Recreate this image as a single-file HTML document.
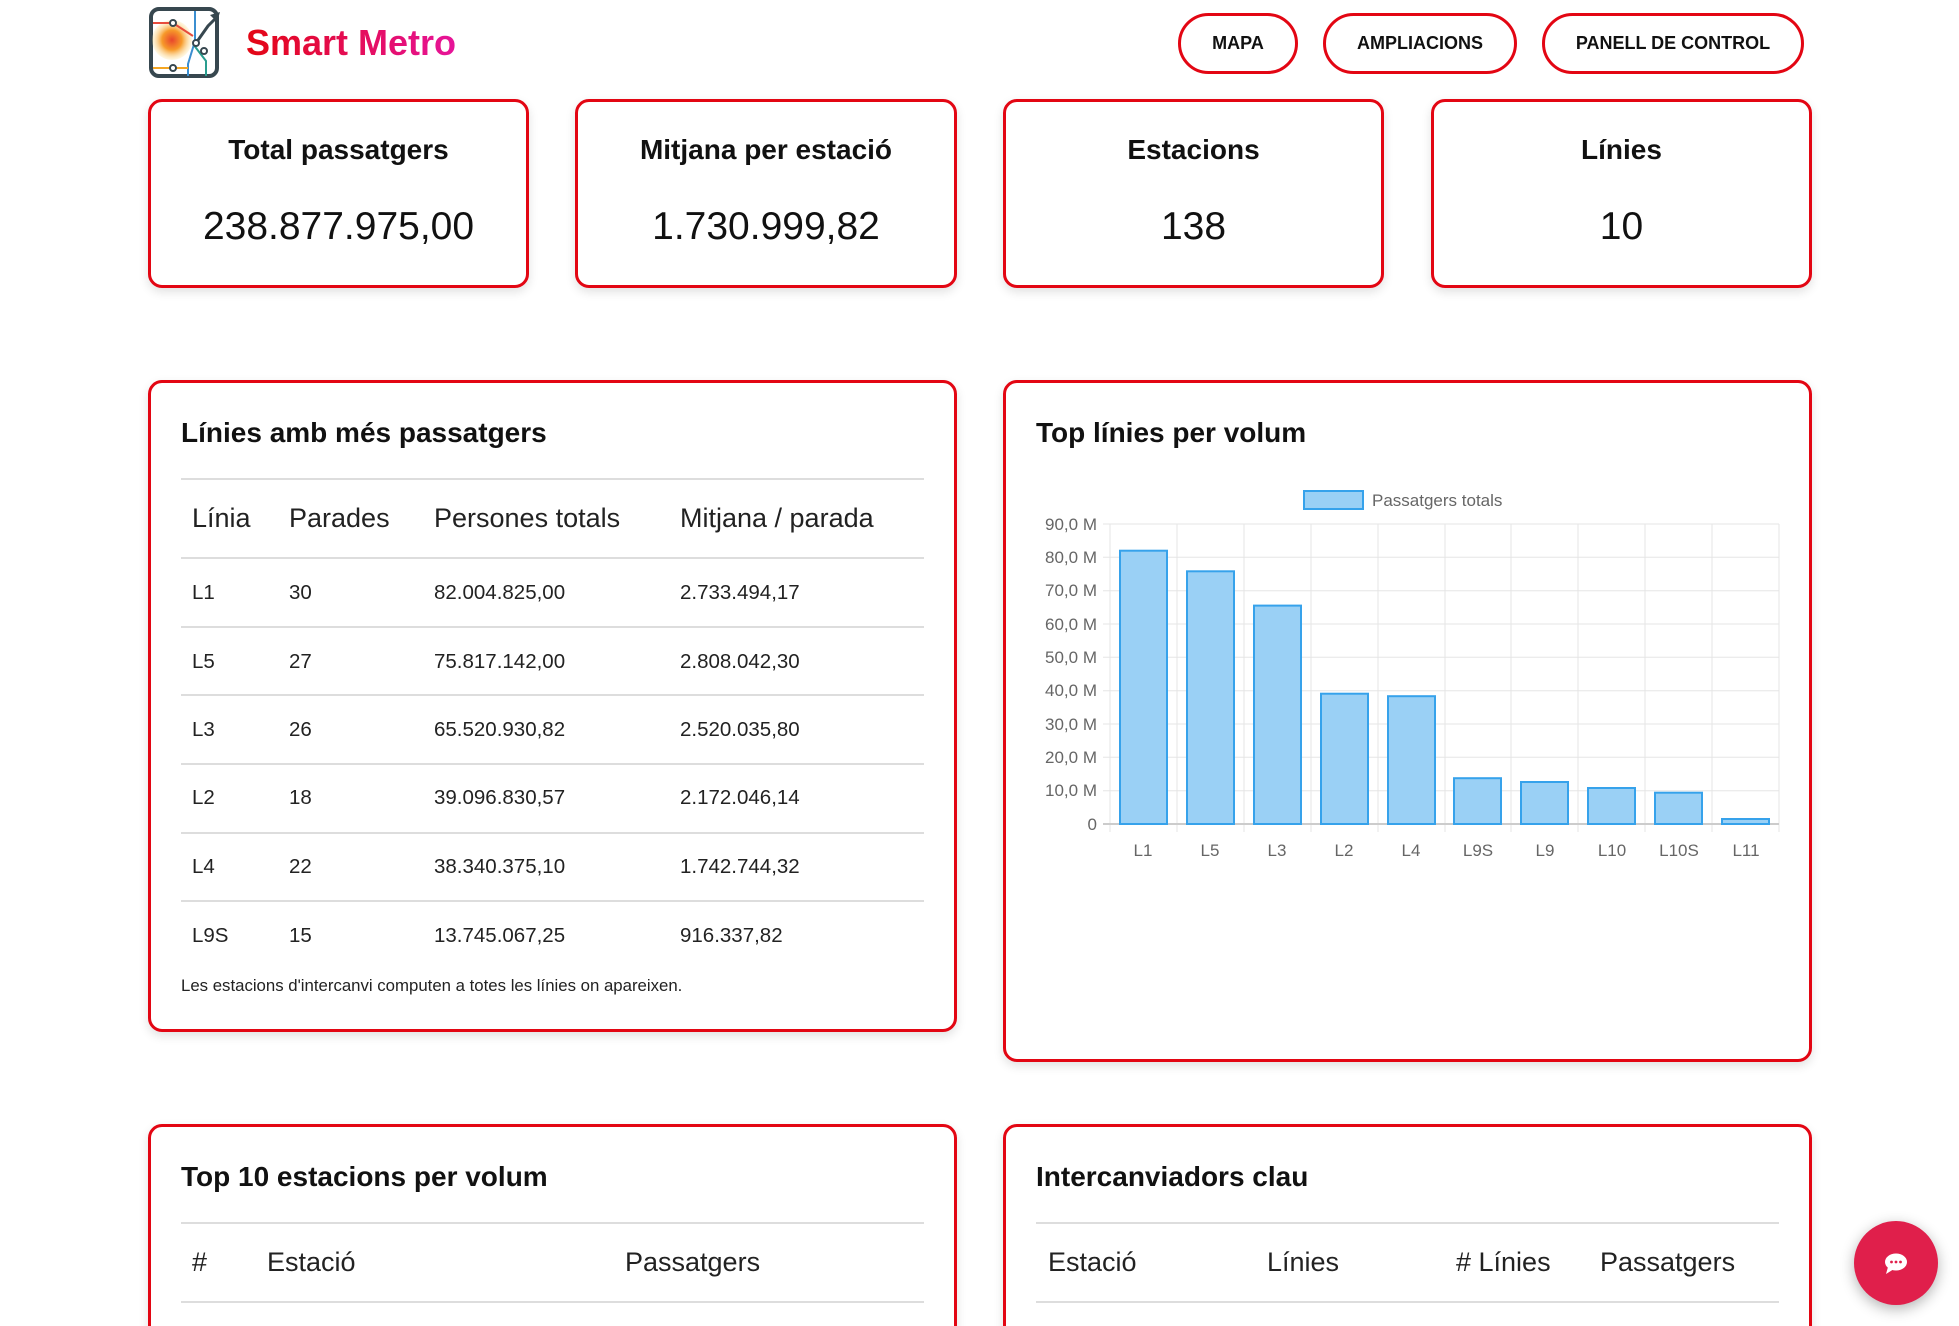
<!DOCTYPE html>
<html style="height:1326px;overflow:hidden"><head><meta charset="utf-8"><style>
body{margin:0;width:1959px;height:1326px;overflow:hidden;background:#fff;font-family:"Liberation Sans",sans-serif;position:relative;color:#111}
.a{position:absolute}
.btn{position:absolute;top:13px;height:61px;border:3px solid #e30613;border-radius:31px;box-sizing:border-box;display:flex;align-items:center;justify-content:center;font-weight:bold;font-size:18px;color:#111}
.card{position:absolute;border:3px solid #e30613;border-radius:14px;box-sizing:border-box;box-shadow:0 4px 10px rgba(0,0,0,0.12);background:#fff}
.kt{position:absolute;left:0;right:0;text-align:center;font-weight:bold;font-size:28px;top:32px}
.kv{position:absolute;left:0;right:0;text-align:center;font-size:39px;top:103px}
.ct{position:absolute;font-weight:bold;font-size:28px;left:30px;top:34px}
.hr{position:absolute;left:30px;right:30px;height:2px;background:#ddd}
.th{position:absolute;font-size:27px;color:#222}
.td{position:absolute;font-size:20.5px;color:#222}
</style></head><body>
<svg class="a" style="left:148px;top:6px" width="72" height="73" viewBox="0 0 72 73">
<rect x="3" y="3" width="66" height="67" rx="8" fill="#fff" stroke="#37474f" stroke-width="4"/>
<defs><radialGradient id="g"><stop offset="0" stop-color="#e8452c"/><stop offset="0.5" stop-color="#f79a2a"/><stop offset="1" stop-color="#fde8a8" stop-opacity="0.3"/></radialGradient></defs>
<circle cx="24" cy="34" r="20" fill="url(#g)"/>
<path d="M5 17 H25 L45 30" stroke="#e74c3c" stroke-width="2" fill="none"/>
<path d="M47 5 V35 L40 58 V70" stroke="#3b8ed0" stroke-width="2" fill="none"/>
<path d="M45 38 L58 55 V70" stroke="#2a9d8f" stroke-width="2" fill="none"/>
<path d="M5 62 H40" stroke="#f4a623" stroke-width="2" fill="none"/>
<path d="M48 37 L60 20 L70 10" stroke="#37474f" stroke-width="3" fill="none"/>
<polygon points="72,6 62,9 69,16" fill="#37474f"/>
<circle cx="25" cy="17" r="3" fill="#fff" stroke="#37474f" stroke-width="2"/>
<circle cx="48" cy="37" r="3" fill="#fff" stroke="#37474f" stroke-width="2"/>
<circle cx="56" cy="45" r="3" fill="#fff" stroke="#37474f" stroke-width="2"/>
<circle cx="25" cy="62" r="3" fill="#fff" stroke="#37474f" stroke-width="2"/>
</svg>
<div class="a" style="left:246px;top:22px;font-size:36px;font-weight:bold;background:linear-gradient(90deg,#e30613,#e6149a);-webkit-background-clip:text;background-clip:text;color:transparent">Smart Metro</div>
<div class="btn" style="left:1178px;width:120px">MAPA</div>
<div class="btn" style="left:1323px;width:194px">AMPLIACIONS</div>
<div class="btn" style="left:1542px;width:262px">PANELL DE CONTROL</div>

<div class="card" style="left:148px;top:99px;width:381px;height:189px"><div class="kt">Total passatgers</div><div class="kv">238.877.975,00</div></div>
<div class="card" style="left:575px;top:99px;width:382px;height:189px"><div class="kt">Mitjana per estació</div><div class="kv">1.730.999,82</div></div>
<div class="card" style="left:1003px;top:99px;width:381px;height:189px"><div class="kt">Estacions</div><div class="kv">138</div></div>
<div class="card" style="left:1431px;top:99px;width:381px;height:189px"><div class="kt">Línies</div><div class="kv">10</div></div>

<div class="card" style="left:148px;top:380px;width:809px;height:652px">
<div class="ct">Línies amb més passatgers</div>
<div class="hr" style="top:95px"></div>
<div class="th" style="left:41px;top:120px">Línia</div><div class="th" style="left:138px;top:120px">Parades</div><div class="th" style="left:283px;top:120px">Persones totals</div><div class="th" style="left:529px;top:120px">Mitjana / parada</div>
<div class="hr" style="top:174px"></div>
<div class="td" style="left:41px;top:198px">L1</div><div class="td" style="left:138px;top:198px">30</div><div class="td" style="left:283px;top:198px">82.004.825,00</div><div class="td" style="left:529px;top:198px">2.733.494,17</div>
<div class="hr" style="top:243px"></div>
<div class="td" style="left:41px;top:267px">L5</div><div class="td" style="left:138px;top:267px">27</div><div class="td" style="left:283px;top:267px">75.817.142,00</div><div class="td" style="left:529px;top:267px">2.808.042,30</div>
<div class="hr" style="top:311px"></div>
<div class="td" style="left:41px;top:335px">L3</div><div class="td" style="left:138px;top:335px">26</div><div class="td" style="left:283px;top:335px">65.520.930,82</div><div class="td" style="left:529px;top:335px">2.520.035,80</div>
<div class="hr" style="top:380px"></div>
<div class="td" style="left:41px;top:403px">L2</div><div class="td" style="left:138px;top:403px">18</div><div class="td" style="left:283px;top:403px">39.096.830,57</div><div class="td" style="left:529px;top:403px">2.172.046,14</div>
<div class="hr" style="top:449px"></div>
<div class="td" style="left:41px;top:472px">L4</div><div class="td" style="left:138px;top:472px">22</div><div class="td" style="left:283px;top:472px">38.340.375,10</div><div class="td" style="left:529px;top:472px">1.742.744,32</div>
<div class="hr" style="top:517px"></div>
<div class="td" style="left:41px;top:541px">L9S</div><div class="td" style="left:138px;top:541px">15</div><div class="td" style="left:283px;top:541px">13.745.067,25</div><div class="td" style="left:529px;top:541px">916.337,82</div>
<div class="a" style="left:30px;top:593px;font-size:16.8px;color:#222">Les estacions d'intercanvi computen a totes les línies on apareixen.</div>
</div>

<div class="card" style="left:1003px;top:380px;width:809px;height:682px">
<div class="ct">Top línies per volum</div>
</div>
<svg class="a" style="left:1003px;top:380px" width="809" height="682" font-family="Liberation Sans, sans-serif">
<rect x="301" y="111" width="59" height="18" fill="#9ad0f5" stroke="#36a2eb" stroke-width="2"/>
<text x="369" y="126" font-size="17" fill="#666">Passatgers totals</text>
<g stroke="#e5e5e5" stroke-width="1">
<line x1="100" y1="144" x2="776" y2="144"/><line x1="100" y1="177.3" x2="776" y2="177.3"/><line x1="100" y1="210.7" x2="776" y2="210.7"/><line x1="100" y1="244" x2="776" y2="244"/><line x1="100" y1="277.3" x2="776" y2="277.3"/><line x1="100" y1="310.7" x2="776" y2="310.7"/><line x1="100" y1="344" x2="776" y2="344"/><line x1="100" y1="377.3" x2="776" y2="377.3"/><line x1="100" y1="410.7" x2="776" y2="410.7"/>
<line x1="107" y1="144" x2="107" y2="452"/><line x1="174" y1="144" x2="174" y2="452"/><line x1="241" y1="144" x2="241" y2="452"/><line x1="308" y1="144" x2="308" y2="452"/><line x1="375" y1="144" x2="375" y2="452"/><line x1="442" y1="144" x2="442" y2="452"/><line x1="508" y1="144" x2="508" y2="452"/><line x1="575" y1="144" x2="575" y2="452"/><line x1="642" y1="144" x2="642" y2="452"/><line x1="709" y1="144" x2="709" y2="452"/><line x1="776" y1="144" x2="776" y2="452"/>
</g>
<line x1="100" y1="444" x2="776" y2="444" stroke="#ccc" stroke-width="2"/>
<g font-size="17" fill="#666" text-anchor="end">
<text x="94" y="150">90,0 M</text><text x="94" y="183">80,0 M</text><text x="94" y="216">70,0 M</text><text x="94" y="250">60,0 M</text><text x="94" y="283">50,0 M</text><text x="94" y="316">40,0 M</text><text x="94" y="350">30,0 M</text><text x="94" y="383">20,0 M</text><text x="94" y="416">10,0 M</text><text x="94" y="450">0</text>
</g>
<g fill="#9ad0f5" stroke="#36a2eb" stroke-width="2">
<rect x="117" y="170.7" width="47" height="273.3"/>
<rect x="184" y="191.3" width="47" height="252.7"/>
<rect x="251" y="225.6" width="47" height="218.4"/>
<rect x="318" y="313.7" width="47" height="130.3"/>
<rect x="385" y="316.2" width="47" height="127.8"/>
<rect x="451" y="398.2" width="47" height="45.8"/>
<rect x="518" y="402" width="47" height="42"/>
<rect x="585" y="408" width="47" height="36"/>
<rect x="652" y="412.7" width="47" height="31.3"/>
<rect x="719" y="439" width="47" height="5"/>
</g>
<g font-size="17" fill="#666" text-anchor="middle">
<text x="140" y="476">L1</text><text x="207" y="476">L5</text><text x="274" y="476">L3</text><text x="341" y="476">L2</text><text x="408" y="476">L4</text><text x="475" y="476">L9S</text><text x="542" y="476">L9</text><text x="609" y="476">L10</text><text x="676" y="476">L10S</text><text x="743" y="476">L11</text>
</g>
</svg>

<div class="card" style="left:148px;top:1124px;width:809px;height:260px">
<div class="ct">Top 10 estacions per volum</div>
<div class="hr" style="top:95px"></div>
<div class="th" style="left:41px;top:120px">#</div><div class="th" style="left:116px;top:120px">Estació</div><div class="th" style="left:474px;top:120px">Passatgers</div>
<div class="hr" style="top:174px"></div>
</div>
<div class="card" style="left:1003px;top:1124px;width:809px;height:260px">
<div class="ct">Intercanviadors clau</div>
<div class="hr" style="top:95px"></div>
<div class="th" style="left:42px;top:120px">Estació</div><div class="th" style="left:261px;top:120px">Línies</div><div class="th" style="left:450px;top:120px"># Línies</div><div class="th" style="left:594px;top:120px">Passatgers</div>
<div class="hr" style="top:174px"></div>
</div>

<div class="a" style="left:1854px;top:1221px;width:84px;height:84px;border-radius:50%;background:#e01f4b;box-shadow:0 4px 14px rgba(0,0,0,0.3)"></div>
<svg class="a" style="left:1883px;top:1252px" width="26" height="24" viewBox="0 0 26 24">
<ellipse cx="13" cy="10" rx="11" ry="8.5" fill="#fff"/><polygon points="5,15 3,22 11,17" fill="#fff"/>
<circle cx="8.5" cy="10" r="1.4" fill="#e01f4b"/><circle cx="13" cy="10" r="1.4" fill="#e01f4b"/><circle cx="17.5" cy="10" r="1.4" fill="#e01f4b"/>
</svg>
</body></html>
